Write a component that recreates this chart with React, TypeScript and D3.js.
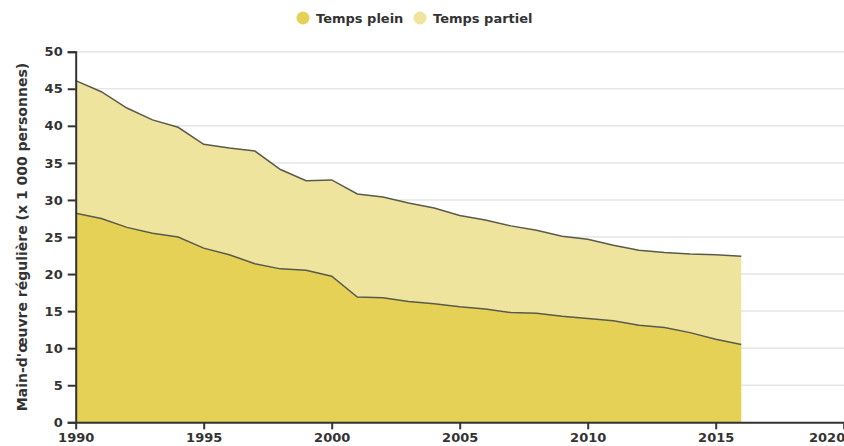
import React from 'react';
import * as d3 from 'd3';

const years = [1990, 1991, 1992, 1993, 1994, 1995, 1996, 1997, 1998, 1999, 2000, 2001, 2002, 2003, 2004, 2005, 2006, 2007, 2008, 2009, 2010, 2011, 2012, 2013, 2014, 2015, 2016];
const tempsPlein = [28.2, 27.5, 26.3, 25.5, 25.0, 23.5, 22.6, 21.4, 20.7, 20.5, 19.7, 16.9, 16.8, 16.3, 16.0, 15.6, 15.3, 14.8, 14.7, 14.3, 14.0, 13.7, 13.1, 12.8, 12.1, 11.2, 10.5];
const tempsPartiel = [17.9, 17.1, 16.1, 15.3, 14.8, 14.0, 14.4, 15.2, 13.4, 12.1, 13.0, 13.9, 13.6, 13.3, 12.9, 12.3, 12.0, 11.7, 11.2, 10.8, 10.7, 10.2, 10.1, 10.1, 10.6, 11.4, 11.9];
const seriesNames = ['Temps plein', 'Temps partiel'];
const seriesColors = ['#e4d155', '#efe49d'];
const yTicks = [0, 5, 10, 15, 20, 25, 30, 35, 40, 45, 50];
const xTicks = [1990, 1995, 2000, 2005, 2010, 2015, 2020];
const yTitle = "Main-d'œuvre régulière (x 1 000 personnes)";

const App = () => {
  const ref = React.useRef<SVGSVGElement>(null);

  React.useEffect(() => {
    const width = 844;
    const svg = d3.select(ref.current);
    svg.selectAll('*').remove();

    const font = "'DejaVu Sans', Verdana, sans-serif";
    const x = d3.scaleLinear().domain([1990, 2020]).range([75.7, 843.7]);
    const y = d3.scaleLinear().domain([0, 50]).range([422.3, 51.7]);

    const rows = years.map((yr, i) => ({ year: yr, plein: tempsPlein[i], partiel: tempsPartiel[i] }));
    const stacked = d3.stack<any>().keys(['plein', 'partiel'])(rows);

    // grid lines
    svg.append('g')
      .selectAll('line')
      .data(yTicks.slice(1))
      .join('line')
      .attr('x1', x(1990))
      .attr('x2', width)
      .attr('y1', d => y(d))
      .attr('y2', d => y(d))
      .attr('stroke', '#e6e6e6')
      .attr('stroke-width', 1.5);

    // areas
    const area = d3.area<any>()
      .x(d => x(d.data.year))
      .y0(d => y(d[0]))
      .y1(d => y(d[1]));
    const topLine = d3.line<any>()
      .x(d => x(d.data.year))
      .y(d => y(d[1]));

    svg.append('g')
      .selectAll('path')
      .data(stacked)
      .join('path')
      .attr('d', d => area(d))
      .attr('fill', (d, i) => seriesColors[i]);

    svg.append('g')
      .selectAll('path')
      .data(stacked)
      .join('path')
      .attr('d', d => topLine(d))
      .attr('fill', 'none')
      .attr('stroke', '#5a5a4a')
      .attr('stroke-width', 1.5);

    // y axis
    const yAxis = svg.append('g')
      .attr('transform', `translate(${x(1990)},0)`)
      .call(d3.axisLeft(y).tickValues(yTicks).tickSize(8).tickPadding(5));
    yAxis.select('.domain').attr('stroke', '#333').attr('stroke-width', 2);
    yAxis.selectAll('.tick line').attr('stroke', '#333').attr('stroke-width', 2);
    yAxis.selectAll('text')
      .attr('fill', '#333')
      .style('font', `bold 13px ${font}`);

    // x axis
    const xAxis = svg.append('g')
      .attr('transform', `translate(0,${y(0)})`)
      .call(d3.axisBottom(x).tickValues(xTicks).tickFormat(d3.format('d')).tickSize(7).tickSizeOuter(0).tickPadding(3));
    xAxis.select('.domain').attr('stroke', '#333').attr('stroke-width', 2);
    xAxis.selectAll('.tick line').attr('stroke', '#333').attr('stroke-width', 2);
    xAxis.selectAll('text')
      .attr('fill', '#333')
      .style('font', `bold 13px ${font}`)
      .attr('text-anchor', (d: any) => (d === 2020 ? 'end' : 'middle'))
      .attr('dx', (d: any) => (d === 2020 ? 1 : 0));

    // y title
    svg.append('text')
      .attr('transform', `translate(27,${(y(0) + y(50)) / 2}) rotate(-90)`)
      .attr('text-anchor', 'middle')
      .attr('fill', '#333')
      .style('font', `bold 14px ${font}`)
      .text(yTitle);

    // legend
    const legendX = [303, 420];
    const legend = svg.append('g')
      .selectAll('g')
      .data(seriesNames)
      .join('g')
      .attr('transform', (d, i) => `translate(${legendX[i]},18)`);
    legend.append('circle')
      .attr('r', 6.5)
      .attr('fill', (d, i) => seriesColors[i]);
    legend.append('text')
      .attr('x', 13)
      .attr('dy', '0.35em')
      .attr('fill', '#333')
      .style('font', `bold 13px ${font}`)
      .text(d => d);
  }, []);

  return (
    <svg
      ref={ref}
      width={844}
      height={446}
      style={{ position: 'absolute', left: 0, top: 0, background: '#fff' }}
    />
  );
};

export default App;
